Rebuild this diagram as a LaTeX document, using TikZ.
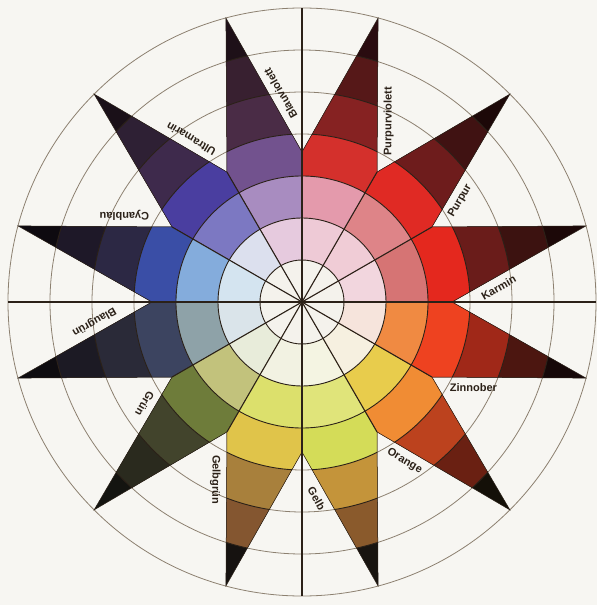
\documentclass[tikz,border=0pt]{standalone}
\usepackage{fontspec}
\setsansfont{Liberation Sans}
\usetikzlibrary{positioning}

\definecolor{paper}{HTML}{F7F6F2}
\definecolor{ringline}{HTML}{8C8070}
\definecolor{darkline}{HTML}{2B2118}
\definecolor{centre}{HTML}{F4F2EC}

\tikzset{
  starlabel/.style={font=\fontsize{11}{13}\selectfont\sffamily\bfseries,
    text=darkline, inner sep=1pt, sloped, allow upside down, below=5pt},
  bandline/.style={draw=darkline, line width=0.9pt},
  spikeline/.style={draw=darkline, line width=0.5pt}
}

% #1 name, #2 start angle, #3-#8 band colours from inside out
\newcommand{\starsector}[8]{%
  \definecolor{bandA}{HTML}{#3}\definecolor{bandB}{HTML}{#4}%
  \definecolor{bandC}{HTML}{#5}\definecolor{bandD}{HTML}{#6}%
  \definecolor{bandE}{HTML}{#7}\definecolor{bandF}{HTML}{#8}%
  \coordinate (#1-a) at (#2:150);
  \coordinate (#1-t) at ({#2+15}:294);
  \coordinate (#1-b) at ({#2+30}:150);
  \begin{scope}
    \clip (o) -- (#1-a) -- (#1-t) -- (#1-b) -- cycle;
    \fill[bandF] (o) circle (294);
    \fill[bandE] (o) circle (252);
    \fill[bandD] (o) circle (210);
    \fill[bandC] (o) circle (168);
    \fill[bandB] (o) circle (126);
    \fill[bandA] (o) circle (84);
    \fill[centre] (o) circle (42);
    \draw[bandline] (o) circle (42) (o) circle (84) (o) circle (126)
      (o) circle (168) (o) circle (210) (o) circle (252);
  \end{scope}
  \draw[spikeline] (#1-a) -- (#1-t) -- (#1-b);
  \draw[bandline, line width=1.1pt] (o) -- (#1-a);
}

\begin{document}
\begin{tikzpicture}[x=1pt, y=1pt]
\useasboundingbox (-302,-303) rectangle (295,302);
\fill[paper] (-302,-303) rectangle (295,302);

\coordinate (o) at (0,0);
\coordinate (east) at (0:294);
\coordinate (north) at (90:294);
\coordinate (west) at (180:294);
\coordinate (south) at (270:294);

% grey rings behind the star
\draw[ringline, line width=0.8pt] (o) circle (168) (o) circle (210)
  (o) circle (252) (o) circle (294);

\starsector{karmin}{0}{F2D6DE}{D67474}{E4281E}{6A1C1A}{3C1210}{1C0808}
\starsector{purpur}{30}{F0CCD6}{DE8488}{E02A24}{6E1C1C}{401212}{1C0808}
\starsector{purpurviolett}{60}{EECAD6}{E49AAC}{D4302C}{862222}{561818}{2A0C10}
\starsector{blauviolett}{90}{E6CADE}{A88CC0}{72528E}{4A2C46}{382030}{1E1018}
\starsector{ultramarin}{120}{DCE0EE}{7C78C2}{4A3EA0}{3E2A4C}{2E2034}{1A1018}
\starsector{cyanblau}{150}{D4E4F0}{84ACDC}{3A4EA6}{2C2844}{1E1828}{0E0A10}
\starsector{blaugruen}{180}{DAE4EA}{8EA2A8}{3C4460}{2A2A38}{1C1A24}{0E0C10}
\starsector{gruen}{210}{E8ECDA}{C2C27C}{6E7C3A}{42442C}{2A2A1E}{141410}
\starsector{gelbgruen}{240}{F2F2E2}{DCE06C}{E0C44A}{A8803C}{845630}{161210}
\starsector{gelb}{270}{F4F4E2}{E0E47A}{D4DC58}{C4943A}{8A5A2C}{181410}
\starsector{orange}{300}{F6F0E0}{E8CC4C}{F08C34}{BC421E}{6A2012}{141008}
\starsector{zinnober}{330}{F6E4DC}{F08A42}{EE4220}{A02818}{4C1610}{160808}

% the two axes
\draw[darkline, line width=1.6pt] (west) -- (east);
\draw[darkline, line width=1.6pt] (south) -- (north);

% names along the spikes
\path (karmin-a) -- (karmin-t) node[starlabel, pos=0.31] (karmin) {Karmin};
\path (purpur-a) -- (purpur-t) node[starlabel, pos=0.24] (purpur) {Purpur};
\path (purpurviolett-a) -- (purpurviolett-t) node[starlabel, pos=0.33] (purpurviolett) {Purpurviolett};
\path (blauviolett-a) -- (blauviolett-t) node[starlabel, pos=0.4] (blauviolett) {Blauviolett};
\path (ultramarin-a) -- (ultramarin-t) node[starlabel, pos=0.31] (ultramarin) {Ultramarin};
\path (cyanblau-a) -- (cyanblau-t) node[starlabel, pos=0.31] (cyanblau) {Cyanblau};
\path (blaugruen-a) -- (blaugruen-t) node[starlabel, pos=0.39] (blaugruen) {Blaugrün};
\path (gruen-a) -- (gruen-t) node[starlabel, pos=0.24] (gruen) {Grün};
\path (gelbgruen-a) -- (gelbgruen-t) node[starlabel, pos=0.31] (gelbgruen) {Gelbgrün};
\path (gelb-a) -- (gelb-t) node[starlabel, pos=0.31] (gelb) {Gelb};
\path (orange-a) -- (orange-t) node[starlabel, pos=0.25] (orange) {Orange};
\path (zinnober-a) -- (zinnober-t) node[starlabel, pos=0.27] (zinnober) {Zinnober};
\end{tikzpicture}
\end{document}
